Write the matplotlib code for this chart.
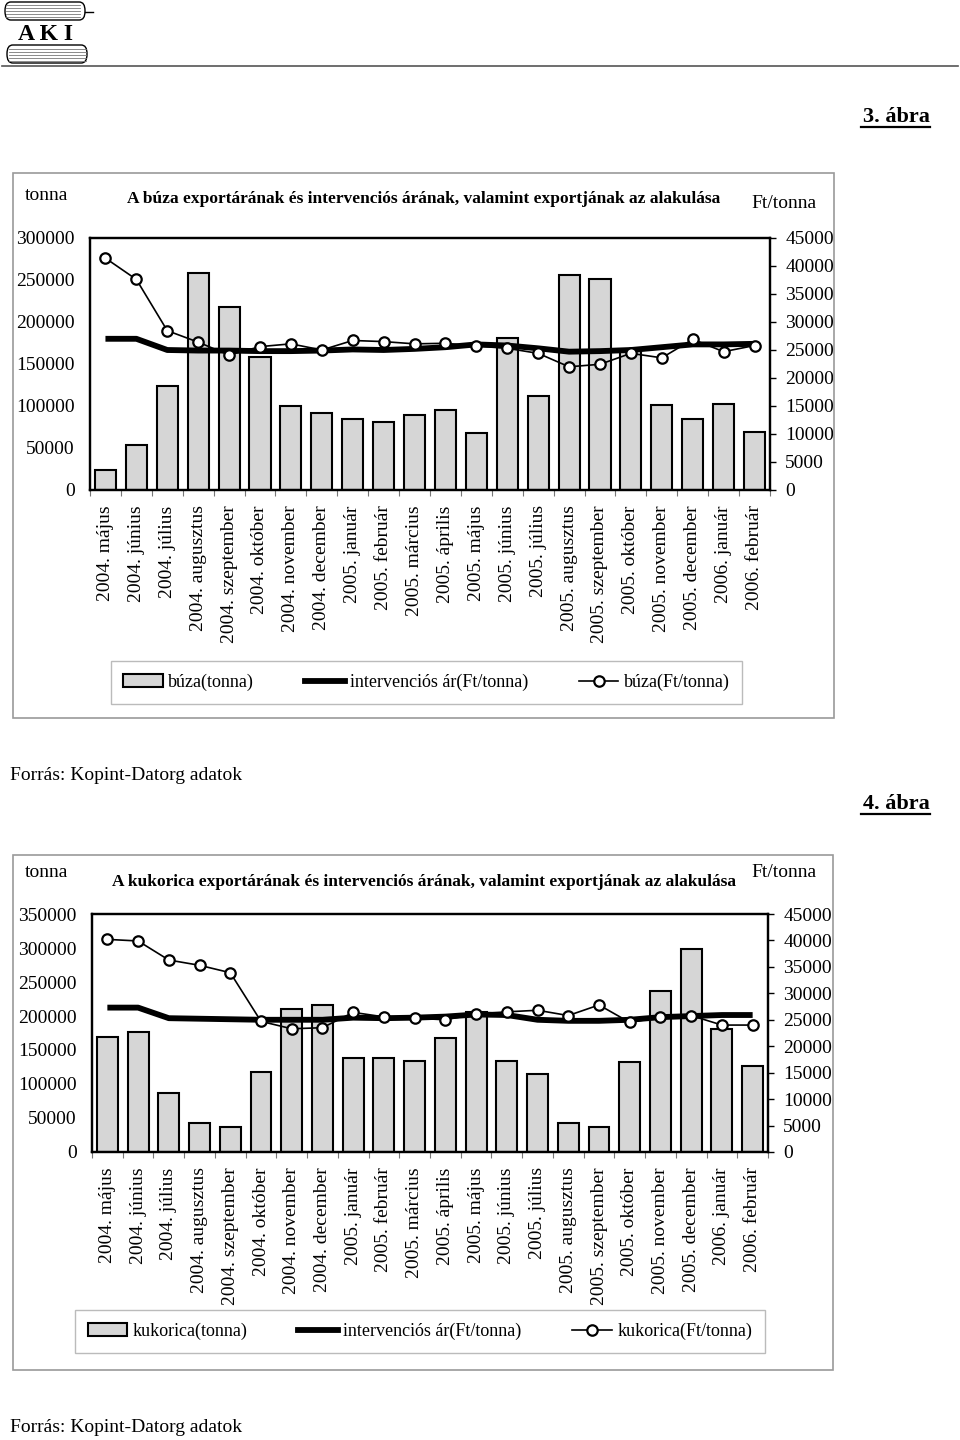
import numpy as np
import matplotlib
matplotlib.use("Agg")
import matplotlib.pyplot as plt
from matplotlib.patches import Rectangle, Patch, FancyBboxPatch
from matplotlib.lines import Line2D

plt.rcParams['font.family'] = ['Liberation Serif', 'DejaVu Serif']

# ---- data ----
months = ['2004. május', '2004. június', '2004. július', '2004. augusztus',
          '2004. szeptember', '2004. október', '2004. november', '2004. december',
          '2005. január', '2005. február', '2005. március', '2005. április',
          '2005. május', '2005. június', '2005. július', '2005. augusztus',
          '2005. szeptember', '2005. október', '2005. november', '2005. december',
          '2006. január', '2006. február']

buza_tonna = [24000, 53000, 124000, 258000, 218000, 158000, 100000, 92000,
              85000, 80500, 89000, 95000, 67500, 181000, 112000, 256000,
              251000, 165000, 101000, 85000, 102000, 69500]
buza_interv = [27000, 27000, 25000, 24900, 24900, 24800, 24800, 24900,
               25100, 25000, 25200, 25500, 26000, 25800, 25300, 24700,
               24800, 25000, 25500, 26000, 26000, 26100]
buza_ar = [41400, 37600, 28450, 26400, 24100, 25600, 26100, 25000,
           26700, 26500, 26100, 26200, 25700, 25300, 24400, 22000,
           22450, 24400, 23600, 26900, 24700, 25800]

kuk_tonna = [169000, 176000, 87500, 42600, 36700, 118000, 210500, 216000,
             138000, 138500, 134500, 167500, 206000, 134000, 114500, 42000,
             36700, 132600, 237500, 298000, 180500, 127000]
kuk_interv = [27300, 27300, 25300, 25200, 25100, 25000, 25000, 25000,
              25400, 25300, 25400, 25600, 26000, 25900, 25000, 24800,
              24800, 25000, 25500, 25700, 25900, 25900]
kuk_ar = [40200, 39900, 36300, 35300, 33900, 24700, 23300, 23500,
          26400, 25550, 25300, 25000, 26100, 26500, 26800, 25800,
          27800, 24500, 25500, 25800, 24000, 24000]

W, H = 960, 1440
fig = plt.figure(figsize=(9.6, 14.4), dpi=100)


def fx(px):
    return px / W


def fy(py):
    return 1 - py / H


def frame(x0, y0, x1, y1, ec='#9a9a9a', lw=1.2):
    fig.add_artist(Rectangle((fx(x0), fy(y1)), fx(x1 - x0), (y1 - y0) / H,
                             transform=fig.transFigure, fill=False, ec=ec, lw=lw))


def fig_text(px, py, s, **kw):
    fig.text(fx(px), fy(py), s, **kw)


# ---- logo ----
for yy in [5, 8, 11, 14, 17]:
    fig.add_artist(Line2D([fx(6), fx(80)], [fy(yy), fy(yy)], color='#777', lw=0.6))
fig.add_artist(FancyBboxPatch((fx(5), fy(20)), fx(80), 18 / H, boxstyle='round,pad=0,rounding_size=0.006',
                              transform=fig.transFigure, fill=False, ec='black', lw=1.0))
fig.add_artist(Line2D([fx(85), fx(93)], [fy(12), fy(12)], color='black', lw=1.0))
for yy in [49, 52, 55, 58, 61]:
    fig.add_artist(Line2D([fx(9), fx(86)], [fy(yy), fy(yy)], color='#777', lw=0.6))
fig.add_artist(FancyBboxPatch((fx(7), fy(63)), fx(80), 18 / H, boxstyle='round,pad=0,rounding_size=0.006',
                              transform=fig.transFigure, fill=False, ec='black', lw=1.0))
fig_text(45, 35, 'A K I', fontsize=17, fontweight='bold', ha='center', va='center')
fig.add_artist(Line2D([fx(2), fx(958)], [fy(66), fy(66)], color='#555', lw=1.2))


def ft_heading(py, label):
    fig_text(930, py, label, fontsize=16, fontweight='bold', ha='right', va='center')
    fig.add_artist(Line2D([fx(861), fx(930)], [fy(py + 10), fy(py + 10)], color='black', lw=1.6))


def draw_chart(rect_px, tonna, interv, ar, ymax_left, title, title_y, units_y,
               ft_y, names, legend_box):
    x0, y0, x1, y1 = rect_px
    ax = fig.add_axes([fx(x0), fy(y1), fx(x1 - x0), (y1 - y0) / H])
    x = np.arange(len(months))
    ax.bar(x, tonna, width=0.68, color='#d6d6d6', edgecolor='black', linewidth=1.5, zorder=2)
    ax.set_xlim(-0.5, len(months) - 0.5)
    ax.set_ylim(0, ymax_left)
    ax.set_yticks(np.arange(0, ymax_left + 1, 50000))
    ax.set_yticklabels([str(v) for v in np.arange(0, ymax_left + 1, 50000)], fontsize=14)
    ax.tick_params(axis='y', length=0, pad=11)
    ax.set_xticks(x)
    ax.set_xticklabels(months, rotation=90, fontsize=14, va='top', ha='center')
    ax.tick_params(axis='x', which='major', length=0, pad=11)
    ax.set_xticks(np.arange(-0.5, len(months) + 0.5, 1), minor=True)
    ax.tick_params(axis='x', which='minor', length=4, width=0.8, color='#777', direction='out')
    for s in ax.spines.values():
        s.set_linewidth(1.6)
        s.set_color('black')

    ax2 = ax.twinx()
    ax2.set_ylim(0, 45000)
    ax2.set_yticks(np.arange(0, 45001, 5000))
    ax2.set_yticklabels([str(v) for v in np.arange(0, 45001, 5000)], fontsize=14)
    ax2.tick_params(axis='y', length=4, width=1.0, pad=7)
    ax2.plot(x, interv, color='black', lw=4.2, solid_joinstyle='round', solid_capstyle='butt', zorder=3)
    ax2.plot(x, ar, color='black', lw=1.2, marker='o', ms=7.5, mfc='white', mec='black',
             mew=1.6, zorder=4)
    for s in ax2.spines.values():
        s.set_linewidth(1.6)

    fig_text(46, units_y, 'tonna', fontsize=14, ha='center', va='center')
    fig_text(424, title_y, title, fontsize=12.5, fontweight='bold', ha='center', va='center')
    fig_text(784, ft_y, 'Ft/tonna', fontsize=14, ha='center', va='center')

    handles = [Patch(facecolor='#d6d6d6', edgecolor='black', linewidth=1.5),
               Line2D([], [], color='black', lw=4.2),
               Line2D([], [], color='black', lw=1.2, marker='o', ms=7.5, mfc='white', mew=1.6)]
    lx0, ly0, lx1, ly1 = legend_box
    leg = ax.legend(handles, names, loc='center', ncol=3,
                    bbox_to_anchor=(fx((lx0 + lx1) / 2), fy((ly0 + ly1) / 2)),
                    bbox_transform=fig.transFigure, fontsize=13, frameon=True,
                    fancybox=False, edgecolor='#aaaaaa', handlelength=2.2,
                    handletextpad=0.3, columnspacing=2.8, borderpad=0.7)
    leg.get_frame().set_linewidth(1.0)
    return ax


# ---- 3. ábra ----
ft_heading(117, '3. ábra')
frame(13, 173, 834, 718)
draw_chart((90, 238, 770, 490), buza_tonna, buza_interv, buza_ar, 300000,
           'A búza exportárának és intervenciós árának, valamint exportjának az alakulása',
           199, 196, 203, ['búza(tonna)', 'intervenciós ár(Ft/tonna)', 'búza(Ft/tonna)'],
           (105, 663, 748, 702))
fig_text(10, 776, 'Forrás: Kopint-Datorg adatok', fontsize=14, ha='left', va='center')

# ---- 4. ábra ----
ft_heading(804, '4. ábra')
frame(13, 855, 833, 1370)
draw_chart((92, 914, 768, 1152), kuk_tonna, kuk_interv, kuk_ar, 350000,
           'A kukorica exportárának és intervenciós árának, valamint exportjának az alakulása',
           882, 873, 873, ['kukorica(tonna)', 'intervenciós ár(Ft/tonna)', 'kukorica(Ft/tonna)'],
           (78, 1311, 762, 1352))
fig_text(10, 1427, 'Forrás: Kopint-Datorg adatok', fontsize=14, ha='left', va='center')

fig.savefig('out.png', dpi=100)
